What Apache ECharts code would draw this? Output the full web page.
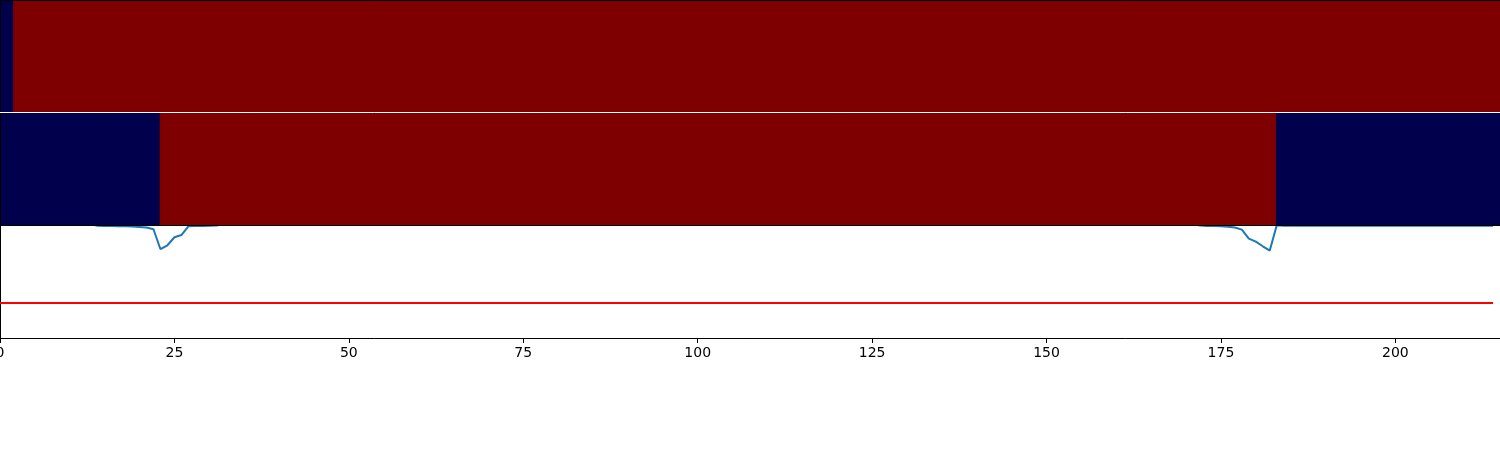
<!DOCTYPE html>
<html>
<head>
<meta charset="utf-8">
<script src="https://cdn.jsdelivr.net/npm/echarts@6/dist/echarts.min.js"></script>
<style>
  html, body { margin: 0; padding: 0; background: #fff; }
  #chart { width: 1500px; height: 450px; }
</style>
</head>
<body>
<div id="chart"></div>
<script>
// ---- data ----
const xTickLabels = ['0', '25', '50', '75', '100', '125', '150', '175', '200'];
const nCells = 215;
// heatmap rows as run-length segments: [start, end (exclusive), value]
const row1Segments = [[0, 2, 0], [2, 215, 1]];
const row2Segments = [[0, 23, 0], [23, 183, 1], [183, 215, 0]];
// line series values for x = 0..214
const lineValues = [
  1.01, 1.01, 1.01, 1.01, 1.01, 1.01, 1.01, 1.01, 1.01, 1.01,
  1.01, 1.01, 1.01, 1.01, 0.996, 0.994, 0.993, 0.992, 0.991, 0.989,
  0.986, 0.980, 0.965, 0.788, 0.823, 0.894, 0.914, 0.991, 0.994, 0.995,
  0.996, 0.998, 1.01, 1.01, 1.01, 1.01, 1.01, 1.01, 1.01, 1.01,
  1.01, 1.01, 1.01, 1.01, 1.01, 1.01, 1.01, 1.01, 1.01, 1.01,
  1.01, 1.01, 1.01, 1.01, 1.01, 1.01, 1.01, 1.01, 1.01, 1.01,
  1.01, 1.01, 1.01, 1.01, 1.01, 1.01, 1.01, 1.01, 1.01, 1.01,
  1.01, 1.01, 1.01, 1.01, 1.01, 1.01, 1.01, 1.01, 1.01, 1.01,
  1.01, 1.01, 1.01, 1.01, 1.01, 1.01, 1.01, 1.01, 1.01, 1.01,
  1.01, 1.01, 1.01, 1.01, 1.01, 1.01, 1.01, 1.01, 1.01, 1.01,
  1.01, 1.01, 1.01, 1.01, 1.01, 1.01, 1.01, 1.01, 1.01, 1.01,
  1.01, 1.01, 1.01, 1.01, 1.01, 1.01, 1.01, 1.01, 1.01, 1.01,
  1.01, 1.01, 1.01, 1.01, 1.01, 1.01, 1.01, 1.01, 1.01, 1.01,
  1.01, 1.01, 1.01, 1.01, 1.01, 1.01, 1.01, 1.01, 1.01, 1.01,
  1.01, 1.01, 1.01, 1.01, 1.01, 1.01, 1.01, 1.01, 1.01, 1.01,
  1.01, 1.01, 1.01, 1.01, 1.01, 1.01, 1.01, 1.01, 1.01, 1.01,
  1.01, 1.01, 1.01, 1.01, 1.01, 1.01, 1.01, 1.01, 1.01, 1.01,
  1.01, 1.01, 0.998, 0.995, 0.993, 0.991, 0.988, 0.981, 0.962, 0.882,
  0.856, 0.814, 0.776, 1.0, 0.996, 0.996, 0.996, 0.996, 0.996, 0.996,
  0.996, 0.996, 0.996, 0.996, 0.996, 0.996, 0.996, 0.996, 0.996, 0.996,
  0.996, 0.996, 0.996, 0.996, 0.996, 0.996, 0.996, 0.996, 0.996, 0.996,
  0.996, 0.996, 0.996, 0.996, 0.996
];
const thresholdValue = 0.31;
const lowColor = '#00004c';
const highColor = '#7f0000';

// ---- build ----
const categories = [];
for (let i = 0; i < nCells; i++) categories.push(i);
function expand(segs) {
  const out = [];
  segs.forEach(([s, e, v]) => {
    const c = v ? highColor : lowColor;
    for (let i = s; i < e; i++) {
      out.push({ value: [i, 0, v], itemStyle: { color: c, borderColor: c, borderWidth: 1 } });
    }
  });
  return out;
}
const lineData = lineValues.map((v, i) => [i, v]);
const lastX = lineValues.length - 1;

const chart = echarts.init(document.getElementById('chart'), null, { renderer: 'canvas' });
const black = '#000';
const gridBase = { left: 0, right: 0, containLabel: false, outerBoundsMode: 'none' };
const hiddenBits = { axisTick: { show: false }, axisLabel: { show: false }, splitLine: { show: false } };
const option = {
  animation: false,
  backgroundColor: '#fff',
  grid: [
    Object.assign({}, gridBase, { top: 0, bottom: 112 }),     // line panel
    Object.assign({}, gridBase, { top: 0, height: 112 }),     // heatmap row 1
    Object.assign({}, gridBase, { top: 113, height: 112 })    // heatmap row 2
  ],
  xAxis: [
    {
      gridIndex: 0, type: 'value', min: 0, max: 215, interval: 25,
      axisLine: { show: true, lineStyle: { color: black, width: 1 } },
      axisTick: { show: true, length: 5, lineStyle: { color: black } },
      axisLabel: {
        color: black, fontSize: 14, fontFamily: 'DejaVu Sans', margin: 8,
        showMaxLabel: false,
        formatter: (v) => { const idx = Math.round(v / 25); return xTickLabels[idx] !== undefined && v % 25 === 0 ? xTickLabels[idx] : ''; }
      },
      splitLine: { show: false }
    },
    Object.assign({
      gridIndex: 1, type: 'category', data: categories, position: 'top', z: 10,
      axisLine: { show: true, lineStyle: { color: black, width: 1 } }
    }, hiddenBits),
    Object.assign({
      gridIndex: 2, type: 'category', data: categories, position: 'bottom', z: 10,
      axisLine: { show: true, lineStyle: { color: black, width: 1 } }
    }, hiddenBits),
    Object.assign({
      gridIndex: 1, type: 'category', data: categories, position: 'bottom', z: 10,
      axisLine: { show: true, lineStyle: { color: '#fff', width: 1 } }
    }, hiddenBits)
  ],
  yAxis: [
    Object.assign({
      gridIndex: 0, type: 'value', min: 0, max: 3,
      axisLine: { show: true, lineStyle: { color: black, width: 1 } }
    }, hiddenBits),
    Object.assign({
      gridIndex: 1, type: 'category', data: ['r1'], z: 10,
      axisLine: { show: true, lineStyle: { color: black, width: 1 } }
    }, hiddenBits),
    Object.assign({
      gridIndex: 2, type: 'category', data: ['r2'], z: 10,
      axisLine: { show: true, lineStyle: { color: black, width: 1 } }
    }, hiddenBits)
  ],
  series: [
    {
      type: 'line', xAxisIndex: 0, yAxisIndex: 0, data: lineData,
      showSymbol: false, symbol: 'none', z: 2,
      lineStyle: { color: '#1f77b4', width: 2 },
      markLine: {
        silent: true, symbol: 'none', label: { show: false },
        lineStyle: { color: '#ff0000', width: 2, type: 'solid' },
        data: [[{ coord: [0, thresholdValue] }, { coord: [lastX, thresholdValue] }]]
      }
    },
    {
      type: 'heatmap', xAxisIndex: 1, yAxisIndex: 1, data: expand(row1Segments), z: 5,
      emphasis: { disabled: true }
    },
    {
      type: 'heatmap', xAxisIndex: 2, yAxisIndex: 2, data: expand(row2Segments), z: 5,
      emphasis: { disabled: true }
    }
  ]
};
chart.setOption(option);
</script>
</body>
</html>
